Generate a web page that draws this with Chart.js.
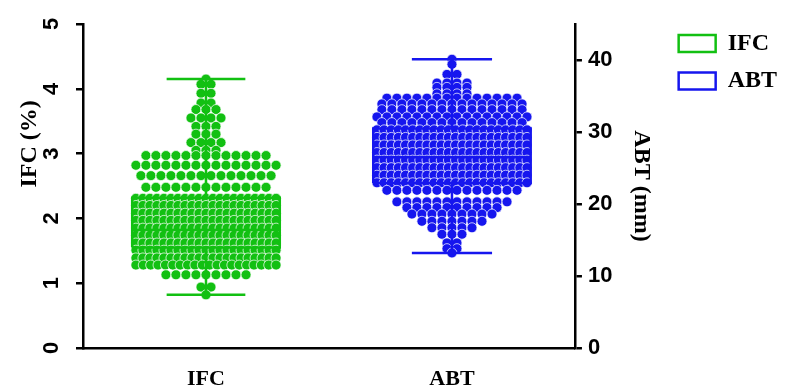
<!DOCTYPE html>
<html>
<head>
<meta charset="utf-8">
<script src="https://cdn.jsdelivr.net/npm/chart.js@4.4.0/dist/chart.umd.min.js"></script>
<style>
html,body{margin:0;padding:0;background:#fff;}
#wrap{width:787px;height:392px;}
</style>
</head>
<body>
<div id="wrap"><canvas id="c" width="787" height="392"></canvas></div>
<script>
// ---------- data ----------
const categories = ['IFC', 'ABT'];
const categoryPos = [0.5, 1.5];
const ifcTicks = [0, 1, 2, 3, 4, 5];
const abtTicks = [0, 10, 20, 30, 40];
const leftTitle = 'IFC (%)';
const rightTitle = 'ABT (mm)';

// box statistics: [min, Q1, median, Q3, max]
const ifcStats = [0.82, 1.55, 1.82, 2.32, 4.15];
const abtStats = [13.2, 22.9, 26.5, 30.5, 40.1];

// dot values (value level, number of dots at that level)
const ifcLevels = [4.15, 4.07, 3.93, 3.78, 3.68, 3.55, 3.42, 3.30, 3.17, 3.05,
                   2.97, 2.82, 2.66, 2.48,
                   2.31, 2.20, 2.08, 1.97, 1.85, 1.74, 1.62, 1.51, 1.39, 1.28,
                   1.13, 0.94, 0.82];
const ifcCounts = [1, 2, 2, 2, 3, 4, 3, 3, 4, 3,
                   13, 15, 14, 13,
                   21, 21, 21, 21, 21, 21, 21, 21, 21, 20,
                   9, 2, 1];

const abtLevels = [40.1, 39.4, 38.0, 36.8, 36.2, 35.3,
                   34.7, 33.9, 33.1, 32.1, 31.3,
                   30.3, 29.25, 28.2, 27.15, 26.1, 25.05, 24.0, 22.95,
                   21.9, 20.3, 19.5, 18.6, 17.6, 16.7, 15.8, 14.6, 13.8, 13.2];
const abtCounts = [1, 1, 2, 4, 4, 4,
                   14, 15, 15, 16, 15,
                   22, 22, 22, 22, 22, 22, 22, 22,
                   14, 12, 10, 9, 7, 5, 3, 2, 2, 1];

// ---------- styling ----------
const GREEN = 'rgb(18,192,18)';
const BLUE = 'rgb(22,22,238)';
const DOT_STEP = 0.0407;   // preferred horizontal spacing of swarm dots (x units)

function swarm(levels, counts, center, maxHalf) {
  const pts = [];
  levels.forEach((v, i) => {
    const n = counts[i];
    let step = DOT_STEP;
    if (n > 1 && (n - 1) * step > 2 * maxHalf) step = 2 * maxHalf / (n - 1);
    for (let j = 0; j < n; j++) {
      pts.push({x: center + (j - (n - 1) / 2) * step, y: v});
    }
  });
  return pts;
}

function boxPath(stats, c, hw, cw) {
  const [mn, q1, med, q3, mx] = stats;
  const gap = {x: c, y: null};
  return [
    {x: c - hw, y: q1}, {x: c - hw, y: q3}, {x: c + hw, y: q3}, {x: c + hw, y: q1}, {x: c - hw, y: q1}, gap,
    {x: c - hw, y: med}, {x: c + hw, y: med}, gap,
    {x: c, y: q3}, {x: c, y: mx}, gap,
    {x: c - cw, y: mx}, {x: c + cw, y: mx}, gap,
    {x: c, y: q1}, {x: c, y: mn}, gap,
    {x: c - cw, y: mn}, {x: c + cw, y: mn}
  ];
}

const tickFont = {family: 'Liberation Sans', weight: 'bold', size: 22, lineHeight: 0.545};
const serifBold = (s) => ({family: 'Liberation Serif', weight: 'bold', size: s});

const boxLine = (label, data, color, axis) => ({
  type: 'line', label, data, yAxisID: axis,
  borderColor: color, backgroundColor: 'rgba(0,0,0,0)', borderWidth: 2.5,
  pointRadius: 0, pointHoverRadius: 0, fill: false, spanGaps: false, tension: 0,
  borderJoinStyle: 'miter', order: 1
});
const dots = (data, color, axis) => ({
  type: 'scatter', label: '', data, yAxisID: axis,
  backgroundColor: color, borderColor: 'rgba(255,255,255,0.9)', borderWidth: 0.8,
  pointRadius: 5, pointHoverRadius: 5, order: 2
});

// left axis title, placed as in the original figure (upper part of the axis)
const leftTitlePlugin = {
  id: 'leftTitle',
  afterDraw(chart) {
    const {ctx, chartArea} = chart;
    const y = chartArea.top + chartArea.height * 0.37;
    ctx.save();
    ctx.translate(30, y);
    ctx.rotate(-Math.PI / 2);
    ctx.textAlign = 'center';
    ctx.textBaseline = 'middle';
    ctx.fillStyle = '#000';
    ctx.font = 'bold 24px "Liberation Serif"';
    ctx.fillText(leftTitle, 0, 0);
    ctx.restore();
  }
};

new Chart(document.getElementById('c'), {
  data: {
    datasets: [
      boxLine(categories[0], boxPath(ifcStats, categoryPos[0], 0.30, 0.16), GREEN, 'y'),
      boxLine(categories[1], boxPath(abtStats, categoryPos[1], 0.32, 0.163), BLUE, 'y2'),
      dots(swarm(ifcLevels, ifcCounts, categoryPos[0], 0.285), GREEN, 'y'),
      dots(swarm(abtLevels, abtCounts, categoryPos[1], 0.305), BLUE, 'y2')
    ]
  },
  plugins: [leftTitlePlugin],
  options: {
    responsive: false,
    animation: false,
    events: [],
    layout: {padding: {top: 18, left: 0, right: 0, bottom: 0}},
    plugins: {
      tooltip: {enabled: false},
      legend: {
        position: 'right', align: 'start',
        labels: {
          boxWidth: 37, boxHeight: 17, padding: 13.5,
          color: '#000', font: serifBold(24),
          filter: (item) => item.text !== ''
        }
      }
    },
    scales: {
      x: {
        type: 'linear', min: 0, max: 2, position: 'bottom',
        grid: {display: false, drawTicks: false},
        border: {display: true, color: '#000', width: 2.5},
        afterBuildTicks: (s) => { s.ticks = categoryPos.map(v => ({value: v})); },
        ticks: {
          autoSkip: false, maxRotation: 0, minRotation: 0, padding: 18,
          color: '#000', font: serifBold(22),
          callback: (v) => { const i = categoryPos.indexOf(v); return i >= 0 ? categories[i] : ''; }
        },
        afterFit: (s) => { s.height = 44; }
      },
      y: {
        type: 'linear', position: 'left', min: 0, max: 5,
        afterBuildTicks: (s) => { s.ticks = ifcTicks.map(v => ({value: v})); },
        grid: {drawOnChartArea: false, drawTicks: true, tickLength: 7, color: '#000', lineWidth: 2.5},
        border: {display: true, color: '#000', width: 2.5},
        ticks: {color: '#000', font: tickFont, padding: 18, minRotation: 90, maxRotation: 90, crossAlign: 'center'},
        title: {display: false, text: leftTitle},
        afterFit: (s) => { s.width = 83; }
      },
      y2: {
        type: 'linear', position: 'right', min: 0, max: 45,
        afterBuildTicks: (s) => { s.ticks = abtTicks.map(v => ({value: v})); },
        grid: {drawOnChartArea: false, drawTicks: true, tickLength: 7, color: '#000', lineWidth: 2.5},
        border: {display: true, color: '#000', width: 2.5},
        ticks: {color: '#000', font: tickFont, padding: 6},
        title: {display: true, text: rightTitle, color: '#000', font: serifBold(24), padding: {top: 10, bottom: 0}},
        afterFit: (s) => { s.width = 90.2; }
      }
    }
  }
});
</script>
</body>
</html>
